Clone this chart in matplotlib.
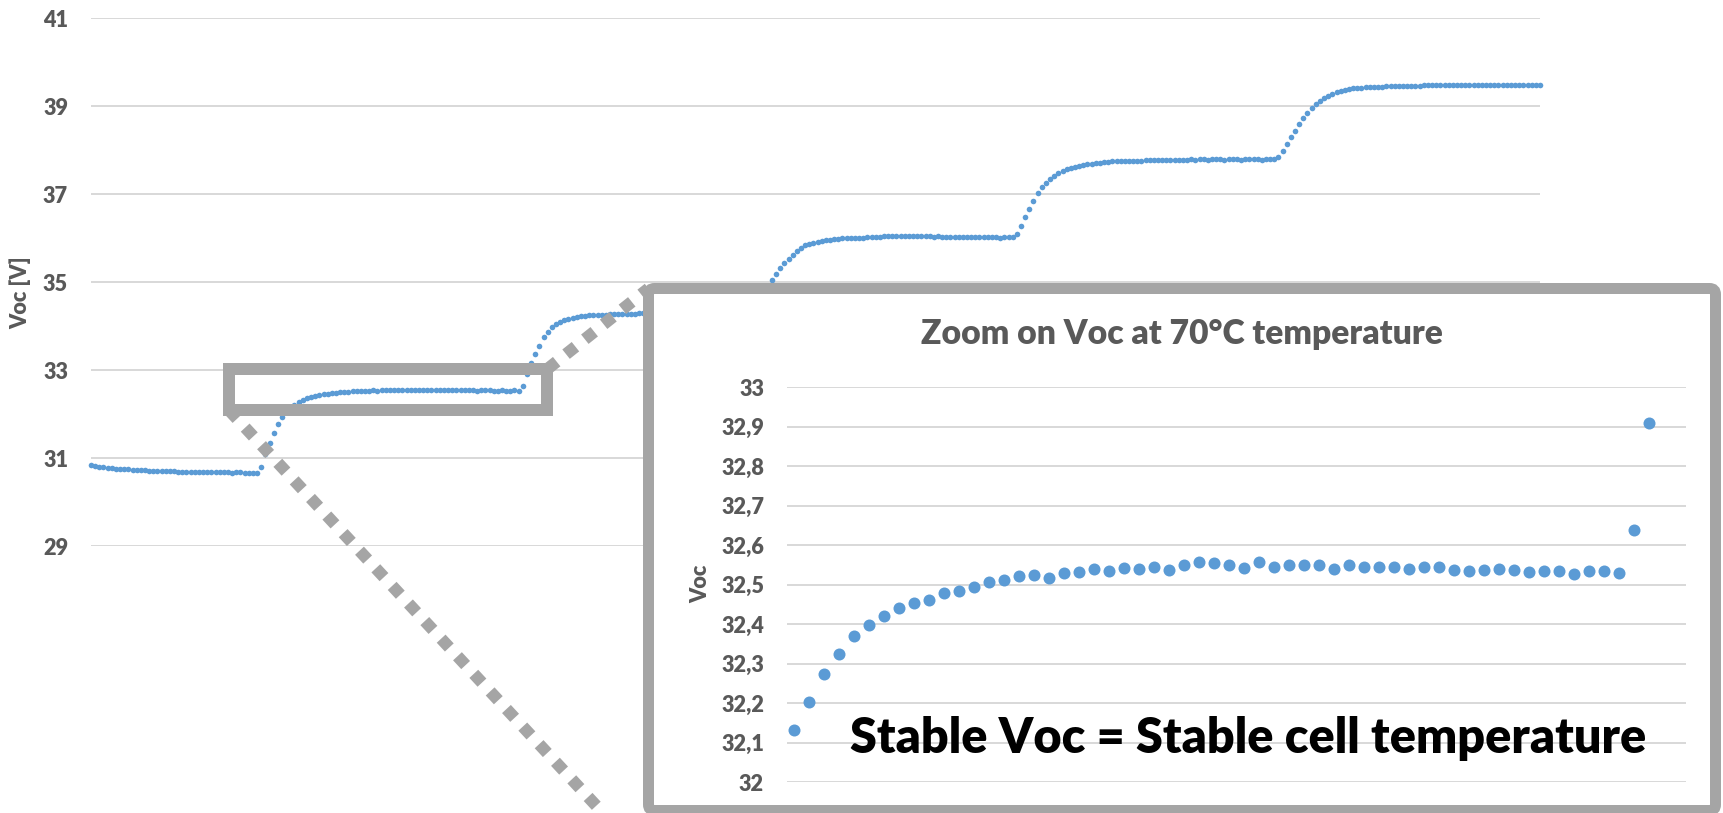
import matplotlib
matplotlib.use('Agg')
import matplotlib.pyplot as plt
from matplotlib.patches import FancyBboxPatch, Rectangle
from matplotlib.lines import Line2D
from matplotlib.transforms import IdentityTransform
from matplotlib.ticker import FuncFormatter, MultipleLocator
import numpy as np

# Voc log during the temperature steps (one reading per sample)
voc_before = [
    30.84, 30.82, 30.80, 30.79, 30.78, 30.77, 30.76, 30.75, 30.75, 30.74,
    30.73, 30.73, 30.72, 30.72, 30.71, 30.71, 30.71, 30.70, 30.70, 30.70,
    30.70, 30.69, 30.69, 30.69, 30.69, 30.69, 30.68, 30.69, 30.68, 30.68,
    30.68, 30.68, 30.68, 30.68, 30.67, 30.68, 30.68, 30.67, 30.67, 30.67,
    30.67, 30.80, 31.10, 31.34, 31.57, 31.77, 31.93, 32.05,
]

# 70°C plateau, shown enlarged in the inset
voc_70c = [
    32.132, 32.202, 32.274, 32.325, 32.369, 32.397, 32.419, 32.441, 32.453, 32.460,
    32.478, 32.484, 32.494, 32.506, 32.511, 32.521, 32.524, 32.517, 32.530, 32.531,
    32.538, 32.533, 32.543, 32.539, 32.545, 32.537, 32.550, 32.556, 32.555, 32.550,
    32.543, 32.556, 32.544, 32.550, 32.550, 32.550, 32.539, 32.550, 32.545, 32.544,
    32.544, 32.539, 32.544, 32.545, 32.537, 32.533, 32.537, 32.540, 32.536, 32.531,
    32.534, 32.535, 32.526, 32.534, 32.535, 32.528, 32.638, 32.909,
]

voc_after = [
    33.17, 33.36, 33.55, 33.74, 33.87, 33.97, 34.05, 34.10, 34.14, 34.17,
    34.19, 34.21, 34.22, 34.23, 34.24, 34.25, 34.25, 34.26, 34.26, 34.27,
    34.27, 34.27, 34.28, 34.28, 34.28, 34.28, 34.29, 34.29, 34.29, 34.29,
    34.29, 34.30, 34.30, 34.29, 34.30, 34.30, 34.30, 34.30, 34.29, 34.30,
    34.30, 34.30, 34.30, 34.30, 34.29, 34.30, 34.30, 34.30, 34.29, 34.30,
    34.30, 34.30, 34.29, 34.31, 34.38, 34.52, 34.70, 34.88, 35.05, 35.18,
    35.32, 35.43, 35.52, 35.61, 35.70, 35.78, 35.83, 35.87, 35.89, 35.91,
    35.93, 35.95, 35.96, 35.97, 35.98, 35.99, 35.99, 36.00, 36.00, 36.01,
    36.01, 36.02, 36.02, 36.03, 36.03, 36.04, 36.04, 36.04, 36.05, 36.04,
    36.05, 36.04, 36.05, 36.04, 36.04, 36.04, 36.04, 36.03, 36.04, 36.03,
    36.03, 36.03, 36.03, 36.02, 36.03, 36.02, 36.03, 36.02, 36.02, 36.02,
    36.02, 36.02, 36.02, 36.01, 36.02, 36.02, 36.02, 36.10, 36.28, 36.47,
    36.66, 36.85, 37.02, 37.15, 37.26, 37.35, 37.42, 37.47, 37.52, 37.56,
    37.59, 37.62, 37.64, 37.66, 37.68, 37.69, 37.70, 37.71, 37.72, 37.73,
    37.74, 37.74, 37.75, 37.75, 37.75, 37.76, 37.76, 37.76, 37.77, 37.77,
    37.77, 37.77, 37.78, 37.77, 37.78, 37.78, 37.78, 37.78, 37.78, 37.79,
    37.78, 37.79, 37.79, 37.78, 37.79, 37.79, 37.79, 37.78, 37.79, 37.79,
    37.79, 37.78, 37.79, 37.79, 37.79, 37.79, 37.78, 37.79, 37.79, 37.79,
    37.84, 37.98, 38.14, 38.29, 38.43, 38.59, 38.72, 38.84, 38.95, 39.04,
    39.11, 39.18, 39.23, 39.27, 39.31, 39.34, 39.36, 39.38, 39.40, 39.41,
    39.42, 39.43, 39.43, 39.44, 39.44, 39.44, 39.45, 39.45, 39.45, 39.45,
    39.46, 39.46, 39.46, 39.46, 39.46, 39.47, 39.47, 39.47, 39.47, 39.47,
    39.47, 39.47, 39.48, 39.47, 39.48, 39.48, 39.47, 39.48, 39.48, 39.47,
    39.47, 39.47, 39.47, 39.47, 39.47, 39.47, 39.47, 39.48, 39.47, 39.47,
    39.47, 39.47, 39.47, 39.47,
]

main_ticks = [29, 31, 33, 35, 37, 39, 41]
zoom_title = 'Zoom on Voc at 70°C temperature'
note = 'Stable Voc = Stable cell temperature'

W, H, DPI = 1723, 813, 100
BLUE = '#5B9BD5'
GREY = '#A5A5A5'
GRID = '#D9D9D9'
LABEL = '#595959'
PT = 72 / DPI  # points per pixel

plt.rcParams['font.family'] = ['Lato', 'DejaVu Sans']
plt.rcParams['font.weight'] = 'heavy'

voc = np.array(voc_before + voc_70c + voc_after)
idx = np.arange(len(voc))
z0 = len(voc_before)
z1 = z0 + len(voc_70c) - 1


def fx(px):
    return px / W


def fy(py):
    return 1 - py / H


def fit_width(txt, width_px):
    # rescale a text so that its rendered width is width_px
    r = fig.canvas.get_renderer()
    w = txt.get_window_extent(renderer=r).width
    txt.set_fontsize(txt.get_fontsize() * width_px / w)


fig = plt.figure(figsize=(W / DPI, H / DPI), dpi=DPI)
fig.patch.set_facecolor('white')

# main chart
ax = fig.add_axes([fx(91), fy(546), fx(1540 - 91), (546 - 18) / H])
ax.set_zorder(1)
ax.plot(idx, voc, 'o', ms=5.6 * PT, color=BLUE, mew=0, clip_on=False, zorder=2)
ax.set_xlim(0, len(voc) - 1)
ax.set_ylim(29, 41)
ax.set_yticks(main_ticks)
ax.set_xticks([])
ax.grid(axis='y', color=GRID, lw=2 * PT)
ax.set_axisbelow(True)
for s in ax.spines.values():
    s.set_visible(False)
ax.tick_params(axis='y', length=0, pad=23 * PT, labelsize=15.6, labelcolor=LABEL)
ax.patch.set_alpha(0)
fig.text(fx(20), fy(293), 'Voc [V]', rotation=90, ha='center', va='center',
         fontsize=15.6, color=LABEL)

# highlight box around the 70°C plateau
bx0, bx1 = z0 - 14.8, z1 + 4.9
by0, by1 = 32.09, 33.02
ax.add_patch(Rectangle((bx0, by0), bx1 - bx0, by1 - by0, fill=False, ec=GREY,
                       lw=12 * PT, joinstyle='miter', zorder=3, clip_on=False))

# inset frame (pixel coordinates, origin bottom-left)
fl, fr, ft, fb = 648.5, 1715.5, 288.5, 810.5
fig.canvas.draw()
p_tr = ax.transData.transform((bx1, by1))
p_bl = ax.transData.transform((bx0, by0))
for p, q in [(p_tr, (fl, H - ft)), (p_bl, (fl, H - 862))]:
    ln = Line2D([p[0], q[0]], [p[1], q[1]], transform=IdentityTransform(),
                color=GREY, lw=12 * PT, ls=(0, (1, 1)), dash_capstyle='butt',
                zorder=2)
    fig.add_artist(ln)

frame = FancyBboxPatch((fl, H - fb), fr - fl, fb - ft,
                       boxstyle='round,pad=0,rounding_size=6',
                       transform=IdentityTransform(), fc='white', ec=GREY,
                       lw=11 * PT, zorder=3)
fig.add_artist(frame)

# inset chart
ins = fig.add_axes([fx(787), fy(782), fx(1686 - 787), (782 - 387) / H])
ins.set_zorder(4)
ins.patch.set_alpha(0)
zx = np.arange(1, len(voc_70c) + 1)
ins.plot(zx, voc_70c, 'o', ms=12 * PT, color=BLUE, mew=0, clip_on=False)
ins.set_xlim(0.5, 60.5)
ins.set_ylim(32, 33)
ins.yaxis.set_major_locator(MultipleLocator(0.1))
ins.yaxis.set_major_formatter(FuncFormatter(lambda v, _: f'{v:.1f}'.rstrip('0').rstrip('.').replace('.', ',')))
ins.set_xticks([])
ins.grid(axis='y', color=GRID, lw=2 * PT)
ins.set_axisbelow(True)
for s in ins.spines.values():
    s.set_visible(False)
ins.tick_params(axis='y', length=0, pad=23 * PT, labelsize=15.6, labelcolor=LABEL)

fig.text(fx(701), fy(584), 'Voc', rotation=90, ha='center', va='center',
         fontsize=15.6, color=LABEL, zorder=6)
title = fig.text(fx((fl + fr) / 2), fy(344), zoom_title, ha='center', va='baseline',
                 fontsize=24, color=LABEL, zorder=6)
note_txt = fig.text(fx(1248), fy(753), note, ha='center', va='baseline',
                    fontsize=35, color='black', zorder=6)
fit_width(title, 522)
fit_width(note_txt, 796)

fig.savefig('out.png', dpi=DPI, facecolor='white')
